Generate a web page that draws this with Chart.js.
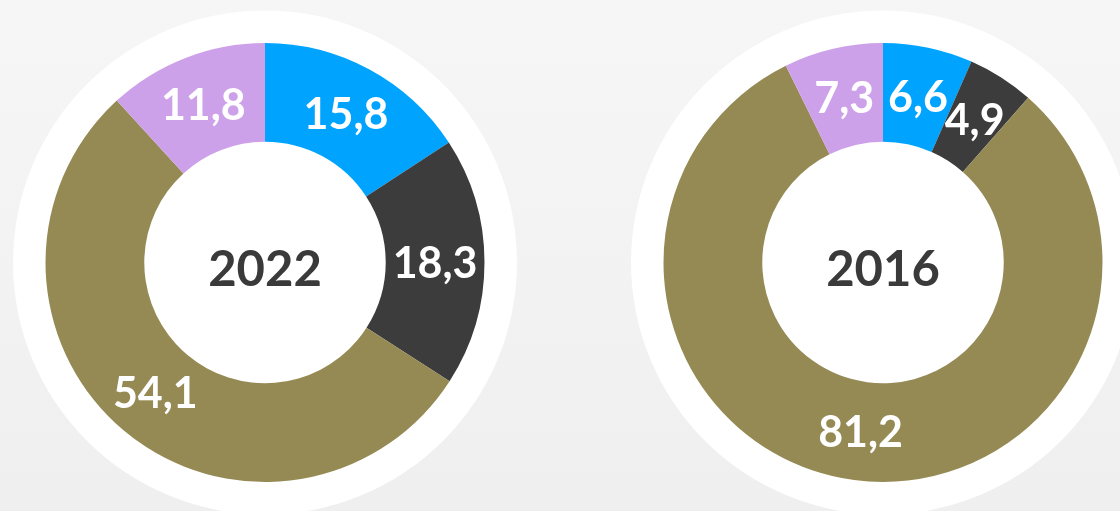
<!DOCTYPE html>
<html>
<head>
<meta charset="utf-8">
<script src="https://cdn.jsdelivr.net/npm/chart.js@4/dist/chart.umd.min.js"></script>
<style>
    html, body { margin: 0; padding: 0; }
    body {
        width: 1120px; height: 511px; overflow: hidden; position: relative;
        background: linear-gradient(180deg, #f6f6f6 0%, #f2f2f2 60%, #efefef 100%);
    }
    .wrap { position: absolute; top: 0; width: 520px; height: 511px; }
    #left { left: 5px; }
    #right { left: 622.7px; }
</style>
</head>
<body>
<div class="wrap" id="left"><canvas id="chart2022" width="520" height="511"></canvas></div>
<div class="wrap" id="right"><canvas id="chart2016" width="520" height="511"></canvas></div>
<script>
// segment order, clockwise from 12 o'clock
const categories = ['Blau', 'Schwarz', 'Oliv', 'Lila']
const colors = ['#00a4ff', '#3c3c3c', '#958a54', '#cda1e9']
const years = ['2022', '2016']
const values2022 = [15.8, 18.3, 54.1, 11.8]
const values2016 = [6.6, 4.9, 81.2, 7.3]

const fmt = v => v.toFixed(1).replace('.', ',')

// white disc behind the ring, year in the middle, values on the segments
const donutDecor = {
    id: 'donutDecor',
    beforeDatasetsDraw(chart) {
        const arc = chart.getDatasetMeta(0).data[0]
        const ctx = chart.ctx
        ctx.save()
        ctx.beginPath()
        ctx.arc(arc.x, arc.y, arc.outerRadius * 1.148, 0, Math.PI * 2)
        ctx.fillStyle = '#ffffff'
        ctx.fill()
        ctx.restore()
    },
    afterDatasetsDraw(chart, args, opts) {
        const meta = chart.getDatasetMeta(0)
        const data = chart.data.datasets[0].data
        const ctx = chart.ctx
        ctx.save()
        ctx.textAlign = 'center'
        ctx.textBaseline = 'middle'
        ctx.fillStyle = '#ffffff'
        ctx.font = '700 43px Lato'
        meta.data.forEach((arc, i) => {
            const p = arc.getCenterPoint()
            ctx.fillText(fmt(data[i]), p.x, p.y + 2)
        })
        const a = meta.data[0]
        ctx.fillStyle = '#3a3a3a'
        ctx.font = '700 49px Lato'
        ctx.fillText(opts.year, a.x, a.y + 8)
        ctx.restore()
    }
}

function makeDonut(id, values, year) {
    const ctx = document.getElementById(id).getContext('2d')
    return new Chart(ctx, {
        type: 'doughnut',
        data: {
            labels: categories,
            datasets: [{
                data: values,
                backgroundColor: colors,
                borderWidth: 0,
                hoverOffset: 0
            }]
        },
        options: {
            responsive: false,
            animation: false,
            devicePixelRatio: 1,
            events: [],
            cutout: '55%',
            layout: { padding: { top: 43, bottom: 29, left: 0, right: 0 } },
            plugins: {
                legend: { display: false },
                tooltip: { enabled: false },
                donutDecor: { year }
            }
        },
        plugins: [donutDecor]
    })
}

makeDonut('chart2022', values2022, years[0])
makeDonut('chart2016', values2016, years[1])
</script>
</body>
</html>
